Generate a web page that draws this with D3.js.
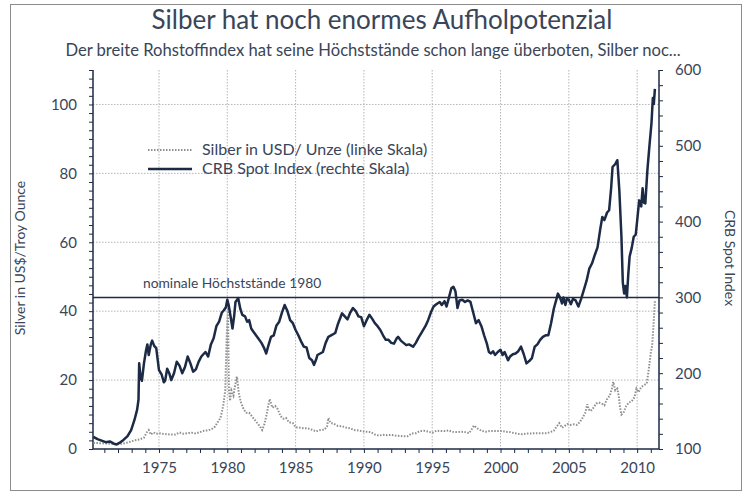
<!DOCTYPE html>
<html>
<head>
<meta charset="utf-8">
<script src="https://cdn.jsdelivr.net/npm/d3@7"></script>
<style>
  body { margin: 0; background: #fff; }
  svg text { font-family: Lato, "Noto Sans", sans-serif; fill: #3a4558; }
</style>
</head>
<body>
<div id="chart"></div>
<script>
const W = 748, H = 493;
const margin = {top: 70, right: 89, bottom: 44, left: 93};
const width = W - margin.left - margin.right;
const height = H - margin.top - margin.bottom;

// CRB Spot Index (right scale)
const crbYears = [1970.2,1970.5,1970.8,1971.1,1971.4,1971.7,1971.9,1972.1,1972.4,1972.7,1972.96,1973.2,1973.4,1973.5,1973.55,1973.65,1973.75,1973.9,1974.05,1974.15,1974.25,1974.4,1974.5,1974.65,1974.8,1975.0,1975.2,1975.35,1975.45,1975.6,1975.75,1975.9,1976.1,1976.3,1976.5,1976.7,1976.9,1977.1,1977.3,1977.5,1977.7,1977.9,1978.1,1978.4,1978.6,1978.8,1979.0,1979.2,1979.4,1979.6,1979.75,1979.9,1980.0,1980.1,1980.25,1980.38,1980.5,1980.6,1980.8,1980.95,1981.1,1981.3,1981.45,1981.6,1981.75,1981.9,1982.1,1982.3,1982.5,1982.7,1982.85,1983.0,1983.2,1983.4,1983.6,1983.8,1984.0,1984.2,1984.4,1984.6,1984.8,1985.0,1985.2,1985.4,1985.6,1985.8,1986.0,1986.2,1986.35,1986.5,1986.6,1986.8,1987.0,1987.2,1987.4,1987.6,1987.9,1988.1,1988.4,1988.6,1988.8,1989.0,1989.2,1989.4,1989.6,1989.8,1990.0,1990.2,1990.4,1990.6,1990.8,1991.0,1991.2,1991.4,1991.6,1991.8,1992.0,1992.2,1992.4,1992.5,1992.7,1992.9,1993.1,1993.3,1993.6,1993.8,1994.0,1994.2,1994.5,1994.7,1994.9,1995.1,1995.3,1995.55,1995.7,1995.9,1996.05,1996.2,1996.4,1996.55,1996.7,1996.85,1997.0,1997.2,1997.4,1997.6,1997.8,1998.0,1998.2,1998.4,1998.6,1998.8,1999.0,1999.15,1999.3,1999.45,1999.6,1999.8,2000.0,2000.15,2000.3,2000.55,2000.7,2000.9,2001.1,2001.3,2001.5,2001.7,2001.9,2002.1,2002.3,2002.5,2002.7,2002.9,2003.1,2003.3,2003.5,2003.7,2003.9,2004.1,2004.2,2004.35,2004.5,2004.6,2004.75,2004.85,2005.0,2005.15,2005.3,2005.5,2005.7,2005.9,2006.1,2006.3,2006.5,2006.7,2006.9,2007.1,2007.3,2007.45,2007.6,2007.8,2007.95,2008.1,2008.2,2008.4,2008.55,2008.7,2008.85,2008.95,2009.05,2009.15,2009.25,2009.35,2009.45,2009.6,2009.75,2009.9,2010.05,2010.15,2010.3,2010.4,2010.5,2010.6,2010.75,2010.9,2011.05,2011.15,2011.22,2011.3];
const crbValues = [116,113,111,109,110,107,106,108,112,117,125,138,152,165,213,195,190,213,230,238,224,238,243,236,233,204,198,188,190,206,200,191,200,215,210,200,208,222,213,202,205,215,222,228,222,238,246,262,268,280,283,287,297,290,274,259,275,294,299,285,277,275,268,270,259,255,250,245,240,233,226,236,248,250,263,268,280,290,282,270,266,257,250,242,235,234,220,217,211,218,224,226,228,240,248,250,253,265,279,275,271,280,286,282,275,274,262,270,277,272,266,262,257,250,244,244,240,239,246,248,243,240,237,238,235,240,247,253,262,270,280,288,291,294,290,295,288,298,312,314,308,286,296,297,294,296,294,280,266,270,262,250,239,228,226,229,224,228,231,224,228,217,222,225,226,229,235,225,213,216,220,235,238,244,248,250,250,266,285,298,305,300,292,300,290,298,297,291,298,296,288,298,310,322,338,345,356,366,390,406,402,412,415,445,472,476,481,440,380,320,305,315,300,330,354,365,380,383,410,428,420,444,425,424,468,500,530,563,555,575];

// Silver in USD per ounce (left scale)
const silverYears = [1970.2,1970.6,1971.0,1971.5,1972.0,1972.4,1972.8,1973.2,1973.6,1973.9,1974.1,1974.25,1974.4,1974.6,1974.8,1975.0,1975.3,1975.6,1975.9,1976.2,1976.5,1976.8,1977.1,1977.4,1977.7,1978.0,1978.3,1978.6,1978.9,1979.1,1979.3,1979.5,1979.7,1979.85,1979.95,1980.05,1980.12,1980.2,1980.3,1980.45,1980.55,1980.7,1980.85,1981.0,1981.2,1981.4,1981.6,1981.8,1982.0,1982.2,1982.4,1982.55,1982.7,1982.85,1983.0,1983.1,1983.3,1983.5,1983.7,1983.9,1984.1,1984.3,1984.5,1984.8,1985.0,1985.3,1985.6,1985.9,1986.2,1986.5,1986.8,1987.1,1987.3,1987.4,1987.55,1987.8,1988.1,1988.4,1988.7,1989.0,1989.3,1989.6,1989.9,1990.2,1990.5,1990.8,1991.1,1991.4,1991.7,1992.0,1992.3,1992.6,1992.9,1993.2,1993.5,1993.8,1994.1,1994.4,1994.7,1995.0,1995.3,1995.6,1995.9,1996.2,1996.5,1996.8,1997.1,1997.4,1997.7,1997.9,1998.05,1998.3,1998.6,1998.9,1999.2,1999.5,1999.8,2000.1,2000.4,2000.7,2001.0,2001.3,2001.6,2001.9,2002.2,2002.5,2002.8,2003.1,2003.4,2003.7,2003.9,2004.1,2004.3,2004.5,2004.7,2004.9,2005.1,2005.4,2005.6,2005.8,2006.0,2006.2,2006.35,2006.45,2006.6,2006.8,2007.0,2007.2,2007.4,2007.6,2007.8,2008.0,2008.15,2008.25,2008.4,2008.55,2008.65,2008.75,2008.85,2009.0,2009.2,2009.4,2009.6,2009.8,2009.95,2010.1,2010.3,2010.5,2010.7,2010.85,2011.0,2011.1,2011.2,2011.3];
const silverValues = [1.8,1.7,1.6,1.5,1.4,1.6,2.0,2.5,2.8,3.3,4.8,5.5,4.2,4.8,4.4,4.6,4.4,4.3,4.2,4.2,4.8,4.4,4.6,4.7,4.5,4.9,5.3,5.4,5.9,6.5,7.8,9.0,12.5,17,32,41,17,14,17,15.5,18,21,16,13.5,11.5,10.5,10.5,9.5,8.5,7.5,6.5,5.5,7.0,9.5,12.5,14.5,12.0,12.5,11.5,9.5,8.8,9.0,7.8,7.5,6.3,6.2,6.0,6.0,5.6,5.1,5.5,5.6,6.5,9.0,7.6,7.3,6.7,6.6,6.2,6.0,5.5,5.4,5.1,5.0,4.9,4.2,3.9,4.1,4.0,4.1,3.9,3.8,3.7,3.7,4.5,4.6,5.2,5.3,5.1,4.7,5.3,5.2,5.2,5.4,5.0,4.9,5.0,4.9,4.6,5.8,6.8,6.0,5.3,5.0,5.2,5.2,5.2,5.2,5.0,4.9,4.6,4.4,4.3,4.5,4.5,4.6,4.6,4.6,4.6,5.0,5.3,6.5,7.5,6.2,6.7,7.2,7.0,7.2,7.0,7.8,9.0,10.5,13.0,11.5,11.0,12.0,13.2,13.5,13.2,12.7,14.5,15.5,17.5,19.5,17.0,17.5,15.5,12.0,10.0,10.5,12.5,13.5,13.8,15.0,17.5,16.5,18.0,18.5,19.0,23,28,30,36,43];

const yearTicks = d3.range(1971, 2012);
const leftTicks = [0, 20, 40, 60, 80, 100];
const rightTicks = [100, 200, 300, 400, 500, 600];
const highLevel = 300; // CRB level of the 1980 highs

const crb = crbYears.map((y, i) => ({year: y, value: crbValues[i]}));
const silver = silverYears.map((y, i) => ({year: y, value: silverValues[i]}));

const navy = "#1c2a45";

const svg = d3.select("#chart").append("svg")
    .attr("width", W)
    .attr("height", H);

// outer frame
svg.append("rect")
    .attr("x", 10.5).attr("y", 4.5)
    .attr("width", 731).attr("height", 486)
    .attr("fill", "none")
    .attr("stroke", "#8c8c8c");

svg.append("text")
    .attr("x", 382).attr("y", 29)
    .attr("text-anchor", "middle")
    .style("font-size", "26px")
    .text("Silber hat noch enormes Aufholpotenzial");

svg.append("text")
    .attr("x", 373).attr("y", 56)
    .attr("text-anchor", "middle")
    .style("font-size", "16.6px")
    .text("Der breite Rohstoffindex hat seine Höchststände schon lange überboten, Silber noc...");

const g = svg.append("g")
    .attr("transform", "translate(" + margin.left + "," + margin.top + ")");

const x = d3.scaleLinear()
    .domain([1970.17, 2011.6])
    .range([0, width]);

const yLeft = d3.scaleLinear()
    .domain([0, 110])
    .range([height, 0]);

const yRight = d3.scaleLinear()
    .domain([100, 600])
    .range([height, 0]);

// grid
g.append("g")
    .selectAll("line")
    .data(yearTicks.filter(d => d % 5 === 0))
    .join("line")
    .attr("x1", d => x(d)).attr("x2", d => x(d))
    .attr("y1", 0).attr("y2", height)
    .attr("stroke", "#b5b5b5")
    .attr("stroke-dasharray", "1.5,1.5");

g.append("g")
    .selectAll("line")
    .data(leftTicks.filter(d => d > 0))
    .join("line")
    .attr("x1", 0).attr("x2", width)
    .attr("y1", d => yLeft(d)).attr("y2", d => yLeft(d))
    .attr("stroke", "#b5b5b5")
    .attr("stroke-dasharray", "1.5,1.5");

// axes
const xAxis = d3.axisBottom(x)
    .tickValues(yearTicks)
    .tickSize(4)
    .tickPadding(9)
    .tickFormat(d => d % 5 === 0 ? d : "");

const leftAxis = d3.axisLeft(yLeft)
    .tickValues(d3.range(0, 110.1, 2.5))
    .tickSize(4)
    .tickPadding(12)
    .tickFormat(d => leftTicks.includes(d) ? d : "");

const rightAxis = d3.axisRight(yRight)
    .tickValues(d3.range(100, 600.1, 20))
    .tickSize(4)
    .tickPadding(12)
    .tickFormat(d => rightTicks.includes(d) ? d : "");

function styleAxis(sel) {
    sel.select(".domain").attr("stroke", navy).attr("stroke-width", 1.5);
    sel.selectAll(".tick line").attr("stroke", navy);
    sel.selectAll(".tick text").style("font-size", "15px").attr("fill", "#3a4558");
}

g.append("g")
    .attr("transform", "translate(0," + height + ")")
    .call(xAxis)
    .call(s => s.select(".domain").attr("d", "M0,0H" + width))
    .call(styleAxis);

g.append("g").call(leftAxis)
    .call(s => s.select(".domain").attr("d", "M0,0V" + height))
    .call(styleAxis);

g.append("g")
    .attr("transform", "translate(" + width + ",0)")
    .call(rightAxis)
    .call(s => s.select(".domain").attr("d", "M0,0V" + height))
    .call(styleAxis);

// 1980 high line
g.append("line")
    .attr("x1", 0).attr("x2", width)
    .attr("y1", yRight(highLevel)).attr("y2", yRight(highLevel))
    .attr("stroke", navy)
    .attr("stroke-width", 1.5);

g.append("text")
    .attr("x", x(1980.35)).attr("y", yRight(highLevel) - 9)
    .attr("text-anchor", "middle")
    .style("font-size", "13.8px")
    .text("nominale Höchststände 1980");

// series
const silverLine = d3.line()
    .x(d => x(d.year))
    .y(d => yLeft(d.value));

const crbLine = d3.line()
    .x(d => x(d.year))
    .y(d => yRight(d.value));

g.append("path")
    .datum(silver)
    .attr("d", silverLine)
    .attr("fill", "none")
    .attr("stroke", "#8f8f8f")
    .attr("stroke-width", 2)
    .attr("stroke-dasharray", "1.5,1.5");

g.append("path")
    .datum(crb)
    .attr("d", crbLine)
    .attr("fill", "none")
    .attr("stroke", navy)
    .attr("stroke-width", 2.5)
    .attr("stroke-linejoin", "round");

// legend
const legend = svg.append("g").attr("transform", "translate(148,150)");
legend.append("line")
    .attr("x1", 0).attr("x2", 44).attr("y1", 0).attr("y2", 0)
    .attr("stroke", "#8f8f8f").attr("stroke-width", 2)
    .attr("stroke-dasharray", "1.5,1.5");
legend.append("text")
    .attr("x", 54).attr("y", 4.5)
    .style("font-size", "16px")
    .text("Silber in USD/ Unze (linke Skala)");
legend.append("line")
    .attr("x1", 0).attr("x2", 44).attr("y1", 19).attr("y2", 19)
    .attr("stroke", navy).attr("stroke-width", 2.5);
legend.append("text")
    .attr("x", 54).attr("y", 23.5)
    .style("font-size", "16px")
    .text("CRB Spot Index (rechte Skala)");

// axis titles
svg.append("text")
    .attr("transform", "translate(25,258) rotate(-90)")
    .attr("text-anchor", "middle")
    .style("font-size", "14px")
    .text("Silver in US$/Troy Ounce");

svg.append("text")
    .attr("transform", "translate(725,258) rotate(90)")
    .attr("text-anchor", "middle")
    .style("font-size", "14px")
    .text("CRB Spot Index");
</script>
</body>
</html>
